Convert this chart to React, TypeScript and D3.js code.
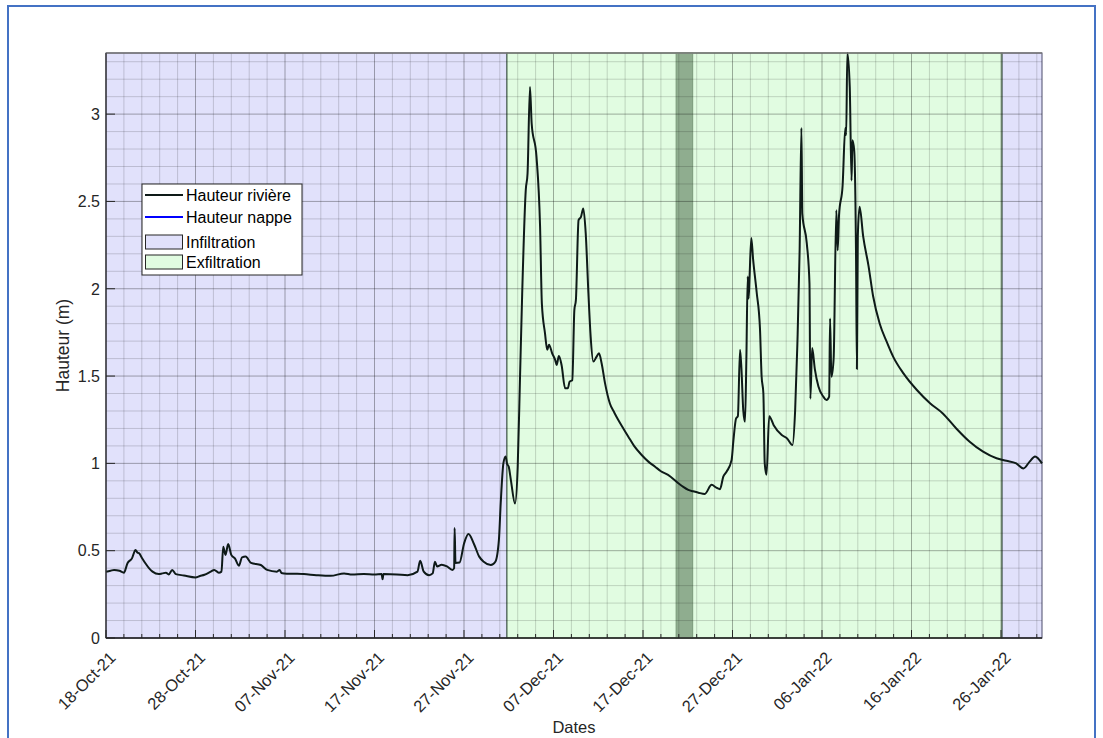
import React from "react";
import * as d3 from "d3";

// ---- data (days since 18-Oct-2021 00:00, river height in m) ----
const startDate = new Date(2021, 9, 18);
const riverDays = [
  0, 0.5, 0.9, 1.5, 2.0, 2.4, 2.9, 3.3, 3.5, 3.7, 4.0, 4.4, 4.8, 5.2, 5.9, 6.3, 6.7, 7.0, 7.4, 7.8,
  8.7, 10.0, 10.5, 11.0, 11.7, 12.1, 12.6, 12.9, 13.1, 13.35, 13.65, 14.0, 14.4, 14.85, 15.2, 15.6,
  16.2, 17.3, 18.0, 19.1, 19.4, 19.6, 19.9, 21.0, 22.1, 23.5, 25.1, 26.6, 27.5, 28.8, 30.0, 30.8,
  30.9, 31.0, 32.5, 33.7, 34.8, 35.1, 35.5, 36.1, 36.5, 36.75, 37.0, 37.5, 38.1, 38.7, 38.9, 38.95,
  39.05, 39.5, 40.0, 40.5, 41.1, 41.7, 42.2, 43.0, 43.5, 43.9, 44.1, 44.4, 44.65, 44.8, 45.0, 45.25,
  45.7, 46.0, 46.26, 46.5, 46.9, 47.1, 47.37, 47.56, 48.1, 48.5, 48.7, 49.05, 49.3, 49.5, 49.85,
  50.2, 50.35, 50.6, 50.9, 51.3, 51.6, 51.8, 52.1, 52.33, 52.5, 52.8, 53.07, 53.33, 53.6, 53.9,
  54.15, 54.45, 54.8, 55.08, 55.38, 55.76, 56.3, 56.8, 57.24, 57.8, 58.36, 59.0, 59.85, 60.6, 61.35,
  62.0, 62.8, 63.95, 64.5, 65.06, 65.6,
  66.2, 66.9, 67.67, 68.2, 68.6, 68.97, 69.35, 69.9, 70.1, 70.4, 70.6, 70.84, 71.0, 71.2, 71.4,
  71.55, 71.7, 71.8, 71.9, 72.1, 72.3, 72.7, 73.07, 73.25, 73.45, 73.6, 73.8, 74.1, 74.6, 75.5,
  76.1, 76.7, 77.0, 77.25, 77.5, 77.7, 77.8, 78.3, 78.6, 78.7, 78.9, 79.2, 79.6, 80.15, 80.5, 80.8,
  80.9, 81.05, 81.3, 81.6, 81.75, 81.9, 82.3, 82.6, 82.7, 82.83, 83.1, 83.3, 83.4, 83.6, 83.8, 83.9,
  84.0, 84.2, 84.6, 85.2, 85.7, 86.45, 87.2, 87.96, 89.1, 90.6, 92.1, 93.5, 95.0, 96.5, 98.0, 99.5,
  100.6, 101.7, 102.5, 103.2, 103.8, 104.58,
];
const riverHeight = [
  0.38, 0.385, 0.39, 0.385, 0.374, 0.428, 0.456, 0.504, 0.49, 0.485, 0.46, 0.428, 0.4, 0.38, 0.366, 0.37, 0.374, 0.364, 0.39, 0.366,
  0.358, 0.347, 0.355, 0.362, 0.38, 0.39, 0.374, 0.38, 0.523, 0.476, 0.538, 0.476, 0.456, 0.414, 0.462, 0.466,
  0.43, 0.418, 0.39, 0.38, 0.39, 0.372, 0.37, 0.368, 0.366, 0.36, 0.356, 0.37, 0.364, 0.366, 0.364, 0.366,
  0.336, 0.366, 0.364, 0.36, 0.38, 0.443, 0.38, 0.36, 0.37, 0.436, 0.41, 0.42, 0.41, 0.39, 0.4, 0.63,
  0.43, 0.432, 0.54, 0.595, 0.54, 0.466, 0.437, 0.418, 0.437, 0.562, 0.77, 1.0, 1.04, 1.0, 0.98, 0.9,
  0.77, 0.98, 1.495, 1.97, 2.565, 2.66, 3.156, 2.946, 2.755, 2.355, 1.915, 1.745, 1.65, 1.68, 1.63,
  1.59, 1.563, 1.615, 1.563, 1.43, 1.43, 1.468, 1.477, 1.878, 1.935, 2.393, 2.412, 2.46, 2.317, 1.974,
  1.726, 1.583, 1.61, 1.63, 1.572, 1.458, 1.343, 1.29, 1.248, 1.2, 1.153, 1.1, 1.048, 1.01, 0.981,
  0.955, 0.934, 0.886, 0.865, 0.848, 0.84,
  0.832, 0.825, 0.877, 0.861, 0.852, 0.924, 0.953, 1.02, 1.13, 1.258, 1.27, 1.65, 1.54, 1.305, 1.238,
  1.6, 2.07, 1.944, 2.06, 2.29, 2.17, 1.98, 1.77, 1.5, 1.4, 1.0, 0.935, 1.27, 1.219, 1.162,
  1.143, 1.105, 1.305, 1.687, 2.22, 2.92, 2.43, 2.26, 2.03, 1.37, 1.66, 1.54, 1.44, 1.382, 1.363, 1.382,
  1.83, 1.496, 1.6, 2.45, 2.22, 2.42, 2.59, 2.92, 2.88, 3.35, 3.156, 2.62, 2.85, 2.79, 2.2, 1.54,
  2.3, 2.47, 2.3, 2.13, 1.96, 1.8, 1.7, 1.61, 1.515, 1.42, 1.343, 1.286, 1.2, 1.124, 1.067, 1.029,
  1.015, 1.0, 0.971, 1.01, 1.04, 1.0,
];
// groundwater height: no visible data in the chart
const nappeDays: number[] = [];
const nappeHeight: number[] = [];

// periods [startDay, endDay]
const infiltrationPeriods = [[0, 44.8], [100.1, 104.58]];
const exfiltrationPeriods = [[44.8, 100.1]];
const darkBand = [[63.7, 65.55]];

const xDomainDays = [0, 104.58];
const yDomain = [0, 3.35];
const yTicks = [0, 0.5, 1, 1.5, 2, 2.5, 3];
const xTickStepDays = 10;
const xMinorStepDays = 2;
const yMinorStep = 0.1;

const legendItems = ["Hauteur rivière", "Hauteur nappe", "Infiltration", "Exfiltration"];

const DAY = 86400000;
const toDate = (d: number) => new Date(startDate.getTime() + d * DAY);

export default function App() {
  const W = 1103, H = 738;
  const L = 106, R = 1042, T = 53, B = 638;
  const x = d3.scaleTime().domain(xDomainDays.map(toDate)).range([L, R]);
  const y = d3.scaleLinear().domain(yDomain).range([B, T]);
  const fmt = d3.timeFormat("%d-%b-%y");
  const font = "'Liberation Sans', Arial, Helvetica, sans-serif";

  const river = riverDays.map((d, i) => [toDate(d), riverHeight[i]] as [Date, number]);
  const nappe = nappeDays.map((d, i) => [toDate(d), nappeHeight[i]] as [Date, number]);
  const line = d3.line<[Date, number]>().x((p) => x(p[0])).y((p) => y(p[1])).curve(d3.curveMonotoneX);

  const minorX = d3.range(0, xDomainDays[1] + 0.001, xMinorStepDays);
  const majorX = d3.range(0, xDomainDays[1] + 0.001, xTickStepDays);
  const minorY = d3.range(0, yDomain[1] + 0.0001, yMinorStep).map((v) => Math.round(v * 10) / 10);

  const rect = (p: number[], fill: string, stroke: string, key: string) => (
    <rect key={key} x={x(toDate(p[0]))} y={T} width={x(toDate(p[1])) - x(toDate(p[0]))} height={B - T}
      fill={fill} stroke={stroke} strokeWidth={1} />
  );

  return (
    <svg width={W} height={H} style={{ position: "absolute", left: 0, top: 0 }} fontFamily={font}>
      <rect x={0} y={0} width={W} height={H} fill="#fff" />
      <rect x={8} y={6} width={1087} height={760} fill="none" stroke="#4472c4" strokeWidth={2} />

      {infiltrationPeriods.map((p, i) => rect(p, "#e1e1fb", "#4a4a6a", "inf" + i))}
      {exfiltrationPeriods.map((p, i) => rect(p, "#e1fce1", "#3c5a3c", "exf" + i))}
      {darkBand.map((p, i) => rect(p, "#8fad8f", "#7a9a7a", "band" + i))}

      {/* grid */}
      {minorX.map((d) => (
        <line key={"gx" + d} x1={x(toDate(d))} x2={x(toDate(d))} y1={T} y2={B}
          stroke="#000" strokeOpacity={d % xTickStepDays === 0 ? 0.32 : 0.16} />
      ))}
      {minorY.map((v) => (
        <line key={"gy" + v} x1={L} x2={R} y1={y(v)} y2={y(v)}
          stroke="#000" strokeOpacity={Math.abs(v * 2 - Math.round(v * 2)) < 1e-6 ? 0.32 : 0.16} />
      ))}

      {/* series */}
      <path d={line(river) || ""} fill="none" stroke="#0e1a18" strokeWidth={2} strokeLinejoin="round" />
      {nappe.length > 0 && <path d={line(nappe) || ""} fill="none" stroke="#0000ff" strokeWidth={1.5} />}

      {/* axes */}
      <line x1={L} x2={R} y1={T} y2={T} stroke="#7a7a7a" strokeWidth={1.5} />
      <line x1={L} x2={L} y1={T} y2={B} stroke="#3c3c3c" strokeWidth={1.2} />
      <line x1={L} x2={R} y1={B} y2={B} stroke="#262626" strokeWidth={1.6} />
      {minorX.map((d) => (
        <line key={"tx" + d} x1={x(toDate(d))} x2={x(toDate(d))} y1={B} y2={B - (d % xTickStepDays === 0 ? 8 : 4)}
          stroke="#262626" strokeWidth={1} />
      ))}
      {yTicks.map((v) => (
        <line key={"ty" + v} x1={L} x2={L + 9} y1={y(v)} y2={y(v)} stroke="#262626" strokeWidth={1} />
      ))}
      {yTicks.map((v) => (
        <text key={"ly" + v} x={100} y={y(v)} dy="0.36em" textAnchor="end" fontSize={16} fill="#262626">
          {String(v)}
        </text>
      ))}
      {majorX.map((d) => (
        <text key={"lx" + d} transform={`translate(${x(toDate(d)) + 2},650) rotate(-45)`} dy="0.75em"
          textAnchor="end" fontSize={16.5} fill="#262626">
          {fmt(toDate(d))}
        </text>
      ))}
      <text transform={`translate(63,${(T + B) / 2}) rotate(-90)`} dy="0.35em" textAnchor="middle" fontSize={17.5} fill="#262626">
        Hauteur (m)
      </text>
      <text x={(L + R) / 2} y={733} textAnchor="middle" fontSize={16.5} fill="#262626">Dates</text>

      {/* legend */}
      <g>
        <rect x={142} y={184} width={160} height={91} fill="#fff" stroke="#262626" strokeWidth={1} />
        <line x1={145} x2={183} y1={195} y2={195} stroke="#0e1a18" strokeWidth={1.8} />
        <line x1={145} x2={183} y1={217} y2={217} stroke="#0000ff" strokeWidth={1.8} />
        <rect x={145.5} y={235} width={37} height={14} fill="#e1e1fb" stroke="#262626" strokeWidth={1} />
        <rect x={145.5} y={255} width={37} height={14} fill="#e1fce1" stroke="#262626" strokeWidth={1} />
        {legendItems.map((t, i) => (
          <text key={t} x={186} y={[195, 217, 242, 262][i]} dy="0.36em" fontSize={16} fill="#000">{t}</text>
        ))}
      </g>
    </svg>
  );
}
